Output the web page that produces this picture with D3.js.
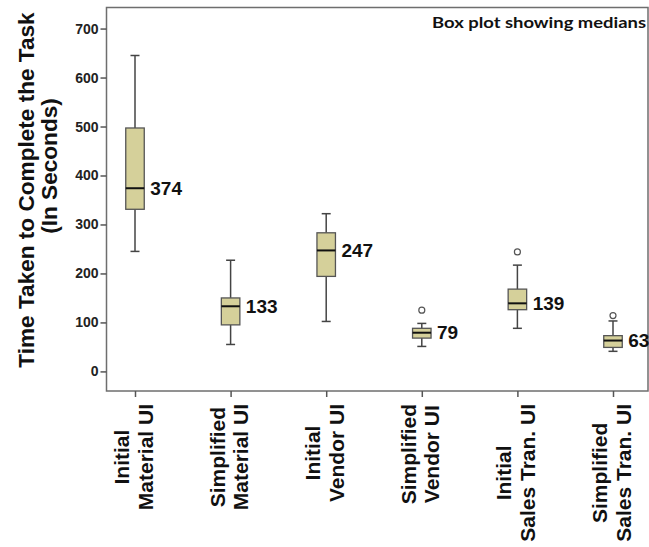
<!DOCTYPE html>
<html><head><meta charset="utf-8">
<script src="https://cdn.jsdelivr.net/npm/d3@7"></script>
<style>body{margin:0;background:#fff}svg{display:block}</style>
</head><body>
<script>
const categories = [["Initial","Material UI"],["Simplified","Material UI"],["Initial","Vendor UI"],["Simplified","Vendor UI"],["Initial","Sales Tran. UI"],["Simplified","Sales Tran. UI"]];
const mins    = [245, 55, 102, 51, 88, 41];
const q1s     = [331, 95, 194, 68, 126, 49];
const medians = [374, 133, 247, 79, 139, 63];
const q3s     = [497, 150, 283, 88, 168, 73];
const maxs    = [645, 227, 322, 98, 217, 103];
const outliers = [[], [], [], [125], [244], [114]];
const yTicks = [0, 100, 200, 300, 400, 500, 600, 700];
const yTitle = ["Time Taken to Complete the Task", "(In Seconds)"];
const note = "Box plot showing medians";

const W = 649, H = 547;
const svg = d3.select("body").append("svg").attr("width", W).attr("height", H);
const fL = 106.5, fR = 648, fT = 7.5, fB = 391;
const y = d3.scaleLinear().domain([-40, 743]).range([fB, fT]);
const keys = categories.map((c, i) => i);
const x = d3.scalePoint().domain(keys).range([135, 613]);

const data = keys.map(i => ({i, min: mins[i], q1: q1s[i], med: medians[i], q3: q3s[i], max: maxs[i], out: outliers[i]}));

// frame
svg.append("rect").attr("x", fL).attr("y", fT).attr("width", fR - fL).attr("height", fB - fT)
  .attr("fill", "none").attr("stroke", "#6e6e6e").attr("stroke-width", 1.5);

// y axis
const yAxis = d3.axisLeft(y).tickValues(yTicks).tickSize(6).tickPadding(2);
const ga = svg.append("g").attr("transform", `translate(${fL},0)`).call(yAxis);
ga.select(".domain").remove();
ga.selectAll(".tick line").attr("stroke", "#555").attr("stroke-width", 1.5);
ga.selectAll(".tick text").attr("font-family", "Liberation Sans, Arial, sans-serif")
  .attr("font-size", 14).attr("font-weight", "bold").attr("fill", "#222");

// x axis
const xAxis = d3.axisBottom(x).tickSize(6).tickFormat("");
const gx = svg.append("g").attr("transform", `translate(0,${fB})`).call(xAxis);
gx.select(".domain").remove();
gx.selectAll(".tick line").attr("stroke", "#555").attr("stroke-width", 1.5);

// x labels
const lblTop = 404;
const xl = svg.append("g").attr("font-family", "Liberation Sans, Arial, sans-serif")
  .attr("font-size", 21).attr("font-weight", "bold").attr("fill", "#111");
keys.forEach(i => {
  const g = xl.append("g");
  const offs = [-6, 17.5];
  const texts = categories[i].map((t, k) => g.append("text").text(t).attr("text-anchor", "middle"));
  const maxLen = d3.max(texts, t => t.node().getComputedTextLength());
  texts.forEach((t, k) => {
    const cx = x(i) + offs[k], cy = lblTop + maxLen / 2;
    t.attr("transform", `translate(${cx},${cy}) rotate(-90)`);
  });
});

// y title
const yt = svg.append("g").attr("font-family", "Liberation Sans, Arial, sans-serif")
  .attr("font-size", 22.6).attr("font-weight", "bold").attr("fill", "#111");
yt.append("text").text(yTitle[0]).attr("text-anchor", "middle").attr("transform", "translate(34,190) rotate(-90)");
yt.append("text").text(yTitle[1]).attr("text-anchor", "middle").attr("transform", "translate(57,166) rotate(-90)");

// boxes
const bw = 18.5, cw = 9;
const bx = svg.append("g");
const g = bx.selectAll("g.box").data(data).join("g").attr("class", "box");
g.append("line").attr("x1", d => x(d.i)).attr("x2", d => x(d.i)).attr("y1", d => y(d.max)).attr("y2", d => y(d.q3))
  .attr("stroke", "#444").attr("stroke-width", 1.5);
g.append("line").attr("x1", d => x(d.i)).attr("x2", d => x(d.i)).attr("y1", d => y(d.q1)).attr("y2", d => y(d.min))
  .attr("stroke", "#444").attr("stroke-width", 1.5);
g.append("line").attr("x1", d => x(d.i) - cw / 2).attr("x2", d => x(d.i) + cw / 2).attr("y1", d => y(d.max)).attr("y2", d => y(d.max))
  .attr("stroke", "#444").attr("stroke-width", 1.5);
g.append("line").attr("x1", d => x(d.i) - cw / 2).attr("x2", d => x(d.i) + cw / 2).attr("y1", d => y(d.min)).attr("y2", d => y(d.min))
  .attr("stroke", "#444").attr("stroke-width", 1.5);
g.append("rect").attr("x", d => x(d.i) - bw / 2).attr("width", bw).attr("y", d => y(d.q3)).attr("height", d => y(d.q1) - y(d.q3))
  .attr("fill", "#d5d09a").attr("stroke", "#555").attr("stroke-width", 1.3);
g.append("line").attr("x1", d => x(d.i) - bw / 2).attr("x2", d => x(d.i) + bw / 2).attr("y1", d => y(d.med)).attr("y2", d => y(d.med))
  .attr("stroke", "#111").attr("stroke-width", 2);
g.selectAll("circle").data(d => d.out.map(v => ({i: d.i, v}))).join("circle")
  .attr("cx", d => x(d.i)).attr("cy", d => y(d.v)).attr("r", 3)
  .attr("fill", "#fff").attr("stroke", "#555").attr("stroke-width", 1.2);
g.append("text").attr("x", d => x(d.i) + bw / 2 + 6).attr("y", d => y(d.med)).attr("dy", "0.35em")
  .attr("font-family", "Liberation Sans, Arial, sans-serif").attr("font-size", 19).attr("font-weight", "bold")
  .attr("fill", "#111").text(d => d.med);

// note
svg.append("text").attr("x", 646).attr("y", 28).attr("text-anchor", "end")
  .attr("font-family", "Lato, sans-serif").attr("font-size", 16).attr("font-weight", "bold")
  .attr("textLength", 214).attr("lengthAdjust", "spacingAndGlyphs").attr("fill", "#111").text(note);
</script>
</body></html>
